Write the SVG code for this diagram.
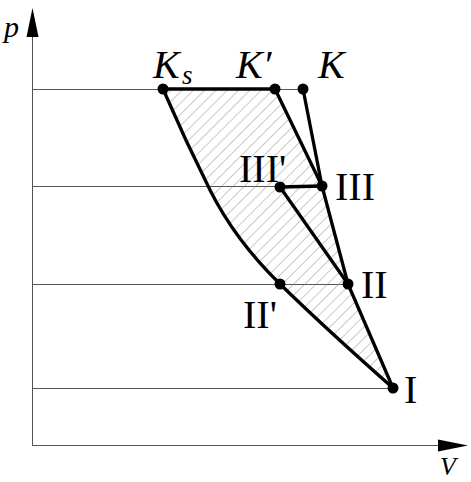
<svg xmlns="http://www.w3.org/2000/svg" width="471" height="482" viewBox="0 0 471 482">
<style>
.thin{stroke:#555;stroke-width:1;fill:none}
.thick{stroke:#000;stroke-width:3.3;fill:none;stroke-linejoin:round;stroke-linecap:round}
.dot{fill:#000}
.lbl{font-family:"Liberation Serif","Times New Roman",serif;font-size:40px;fill:#000}
.it{font-style:italic}
</style>
<defs>
<pattern id="hatch" patternUnits="userSpaceOnUse" width="8" height="8" patternTransform="rotate(45)">
<line x1="0" y1="0" x2="0" y2="8" stroke="#888" stroke-width="0.9"/>
</pattern>
</defs>
<rect width="471" height="482" fill="#fff"/>
<g id="axes">
<line class="thin" x1="32.5" y1="446" x2="32.5" y2="30"/>
<polygon points="32.5,8 26.5,37 38.5,37" fill="#000"/>
<line class="thin" x1="32" y1="445.5" x2="440" y2="445.5"/>
<polygon points="468,445.5 438,439.5 438,451.5" fill="#000"/>
<text class="lbl it" x="4" y="37" style="font-size:30px">p</text>
<text class="lbl it" x="440" y="475" style="font-size:26px">V</text>
</g>
<g id="levels">
<line class="thin" x1="32" y1="89.5" x2="303" y2="89.5"/>
<line class="thin" x1="32" y1="186.5" x2="322" y2="186.5"/>
<line class="thin" x1="32" y1="284.5" x2="348" y2="284.5"/>
<line class="thin" x1="32" y1="388.5" x2="393" y2="388.5"/>
</g>
<g id="region">
<path d="M163,89 L275,89 L322,186 L348,284 L393,388 Q325,328 280,284 Q235,240 210,190 Q185,140 163,89 Z" fill="url(#hatch)" stroke="none"/>
</g>
<g id="connectors">
<line class="thick" x1="163" y1="89" x2="275" y2="89"/>
<line class="thick" x1="275" y1="89" x2="322" y2="186"/>
<line class="thick" x1="303" y1="89" x2="322" y2="186"/>
<line class="thick" x1="322" y1="186" x2="348" y2="284"/>
<line class="thick" x1="348" y1="284" x2="393" y2="388"/>
<line class="thick" x1="280" y1="187" x2="322" y2="186"/>
<line class="thick" x1="280" y1="187" x2="348" y2="284"/>
<path class="thick" d="M163,89 Q185,140 210,190 Q235,240 280,284 Q325,328 393,388"/>
</g>
<g id="node-Ks"><circle class="dot" cx="163" cy="89" r="5.5"/><text class="lbl it" x="153" y="78">K</text><text class="lbl it" x="182" y="84" style="font-size:27px">s</text></g>
<g id="node-Kp"><circle class="dot" cx="275" cy="89" r="5.5"/><text class="lbl it" x="236" y="78">K′</text></g>
<g id="node-K"><circle class="dot" cx="303" cy="89" r="5.5"/><text class="lbl it" x="318" y="78">K</text></g>
<g id="node-IIIp"><circle class="dot" cx="280" cy="187" r="5.5"/><text class="lbl" x="239" y="182">III'</text></g>
<g id="node-III"><circle class="dot" cx="322" cy="186" r="5.5"/><text class="lbl" x="335" y="200">III</text></g>
<g id="node-II"><circle class="dot" cx="348" cy="284" r="5.5"/><text class="lbl" x="361" y="298">II</text></g>
<g id="node-IIp"><circle class="dot" cx="280" cy="284" r="5.5"/><text class="lbl" x="243" y="328">II'</text></g>
<g id="node-I"><circle class="dot" cx="393" cy="388" r="5.5"/><text class="lbl" x="404" y="403">I</text></g>
</svg>
